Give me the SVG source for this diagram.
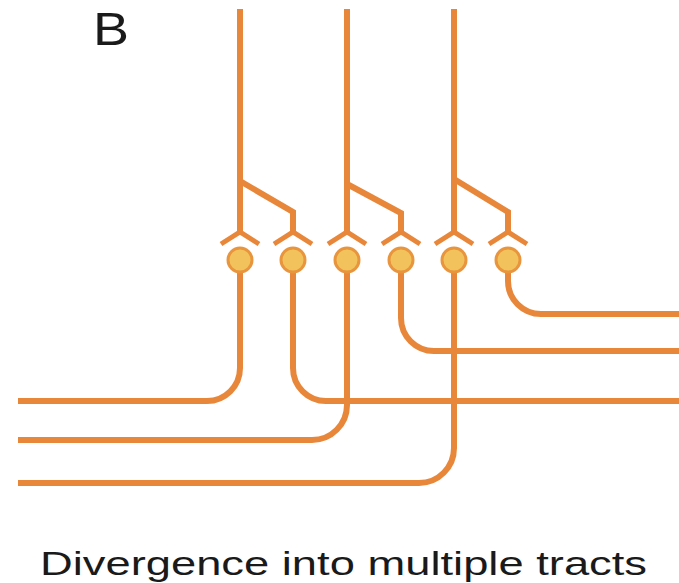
<svg xmlns="http://www.w3.org/2000/svg" width="679" height="583" viewBox="0 0 679 583">
<style>
.ax{fill:none;stroke:#E8873A;stroke-width:6;stroke-linecap:butt;stroke-linejoin:miter}
.arm{fill:none;stroke:#E8873A;stroke-width:5;stroke-linecap:butt;stroke-linejoin:miter}
.cell{fill:#F2C35C;stroke:#E8953E;stroke-width:3}
.lbl{font-family:"Liberation Sans",Arial,sans-serif;fill:#1a1a1a}
</style>
<defs>
<g id="neuron">
<path class="arm" d="M-19 13 L0 1 L19 13"/>
<circle class="cell" cx="0" cy="29" r="12"/>
</g>
</defs>
<rect width="679" height="583" fill="#fff"/>
<text class="lbl" x="93" y="45" font-size="46" textLength="36" lengthAdjust="spacingAndGlyphs">B</text>
<g id="connectors">
<path class="ax" d="M240 9 V232 M240 181 L293 212 V232"/>
<path class="ax" d="M347 9 V232 M347 184 L401 213 V232"/>
<path class="ax" d="M454 9 V232 M454 179 L508 212 V232"/>
<path class="ax" d="M240 273 V368 A33 33 0 0 1 207 401 H18"/>
<path class="ax" d="M293 273 V368 A33 33 0 0 0 326 401 H679"/>
<path class="ax" d="M347 273 V405 A35 35 0 0 1 312 440 H18"/>
<path class="ax" d="M401 273 V318 A33 33 0 0 0 434 351 H679"/>
<path class="ax" d="M454 273 V448 A35 35 0 0 1 419 483 H18"/>
<path class="ax" d="M508 273 V281 A33 33 0 0 0 541 314 H679"/>
</g>
<g id="n1"><use href="#neuron" x="240" y="231"/></g>
<g id="n2"><use href="#neuron" x="293" y="231"/></g>
<g id="n3"><use href="#neuron" x="347" y="231"/></g>
<g id="n4"><use href="#neuron" x="401" y="231"/></g>
<g id="n5"><use href="#neuron" x="454" y="231"/></g>
<g id="n6"><use href="#neuron" x="508" y="231"/></g>
<text class="lbl" x="40" y="575" font-size="33" textLength="607" lengthAdjust="spacingAndGlyphs">Divergence into multiple tracts</text>
</svg>
